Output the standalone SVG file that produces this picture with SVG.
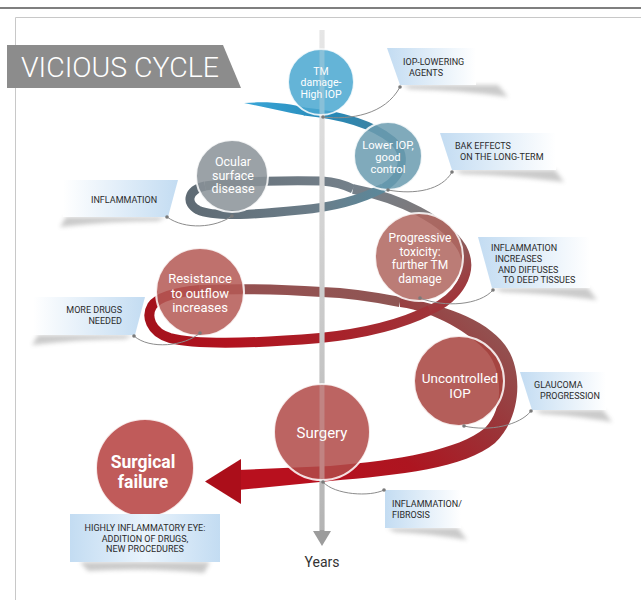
<svg xmlns="http://www.w3.org/2000/svg" width="641" height="600" viewBox="0 0 641 600">
<style>
.ct{font-family:Roboto,"Liberation Sans",sans-serif;fill:#fff;text-anchor:middle;}
.lb{font-family:Roboto,"Liberation Sans",sans-serif;font-size:9px;fill:#2b2b2b;}
.conn{fill:none;stroke:#8c8c8c;stroke-width:1;}
.dot{fill:#7a7a7a;}
.node circle{stroke:#fff;stroke-opacity:.85;stroke-width:2;fill-opacity:.86;}
.shd{fill:#8a8a8a;opacity:.45;filter:url(#blur);}
.rib{fill:none;stroke-linecap:butt;}
</style>
<defs>
<filter id="blur" x="-20%" y="-50%" width="140%" height="200%"><feGaussianBlur stdDeviation="2.2"/></filter>
<linearGradient id="gBlue" gradientUnits="userSpaceOnUse" x1="244" y1="0" x2="405" y2="0"><stop offset="0" stop-color="#3aa6d8"/><stop offset=".55" stop-color="#2688b6"/><stop offset="1" stop-color="#4c7f95"/></linearGradient>
<linearGradient id="gF1" gradientUnits="userSpaceOnUse" x1="385" y1="0" x2="188" y2="0"><stop offset="0" stop-color="#5a889b"/><stop offset=".35" stop-color="#6b7d89"/><stop offset="1" stop-color="#5f6b74"/></linearGradient>
<linearGradient id="gB1" gradientUnits="userSpaceOnUse" x1="205" y1="0" x2="353" y2="0"><stop offset="0" stop-color="#66717a"/><stop offset="1" stop-color="#74808a"/></linearGradient>
<linearGradient id="gRT" gradientUnits="userSpaceOnUse" x1="353" y1="189" x2="432" y2="312"><stop offset="0" stop-color="#74808a"/><stop offset=".45" stop-color="#7f7778"/><stop offset=".7" stop-color="#8d5c5b"/><stop offset="1" stop-color="#a0353a"/></linearGradient>
<linearGradient id="gF2" gradientUnits="userSpaceOnUse" x1="432" y1="0" x2="148" y2="0"><stop offset="0" stop-color="#a0353a"/><stop offset=".3" stop-color="#a7232b"/><stop offset=".7" stop-color="#b2131f"/><stop offset="1" stop-color="#a4121c"/></linearGradient>
<linearGradient id="gB2" gradientUnits="userSpaceOnUse" x1="150" y1="0" x2="400" y2="0"><stop offset="0" stop-color="#a1282c"/><stop offset=".35" stop-color="#955050"/><stop offset="1" stop-color="#8f5654"/></linearGradient>
<linearGradient id="gBig" gradientUnits="userSpaceOnUse" x1="470" y1="300" x2="300" y2="480"><stop offset="0" stop-color="#925452"/><stop offset=".35" stop-color="#9c3035"/><stop offset=".65" stop-color="#ad1520"/><stop offset="1" stop-color="#b8101e"/></linearGradient>
<linearGradient id="gAx" gradientUnits="userSpaceOnUse" x1="0" y1="30" x2="0" y2="545"><stop offset="0" stop-color="#e6e6e6"/><stop offset="1" stop-color="#9c9c9c"/></linearGradient>
<linearGradient id="gBoxR" x1="0" y1="0" x2="1" y2="0"><stop offset="0" stop-color="#c3dcf2"/><stop offset="1" stop-color="#ffffff"/></linearGradient>
<linearGradient id="gBoxL" x1="0" y1="0" x2="1" y2="0"><stop offset="0" stop-color="#ffffff"/><stop offset="1" stop-color="#c3dcf2"/></linearGradient>
<linearGradient id="gBoxC" x1="0" y1="0" x2="1" y2="0"><stop offset="0" stop-color="#c3dcf2"/><stop offset=".5" stop-color="#e9f3fc"/><stop offset="1" stop-color="#c3dcf2"/></linearGradient>
</defs>

<rect width="641" height="600" fill="#fff"/>
<line x1="0" y1="8" x2="641" y2="8" stroke="#555" stroke-width="1.3"/>
<path d="M15.5,600 V17.5 H641" fill="none" stroke="#c8c8c8" stroke-width="1"/>

<g id="title">
<polygon points="7,45 223,45 241,88 7,88" fill="#8c8c8c"/>
<text x="21" y="77" font-family="Roboto,'Liberation Sans',sans-serif" font-weight="300" font-size="28" fill="#fff" textLength="198" lengthAdjust="spacingAndGlyphs">VICIOUS CYCLE</text>
</g>

<g id="spiral">
<path class="rib" d="M200,290 C250,288 290,290 322,292 C350,293 375,297 400,302" stroke="url(#gB2)" stroke-width="10"/>
<path d="M400,297 C440,304 485,318 505,345 C525,372 520,420 495,443 C465,468 400,475 330,481 L238,490 L238,470 L330,466 C400,460 458,450 485,428 C505,408 502,370 487,352 C470,333 435,312 400,307 Z" fill="url(#gBig)"/>
<polygon points="241,459 205,481.5 241,504" fill="#ab0e1a"/>
<path class="rib" d="M205,186 C240,181 290,180 322,181 C335,182 345,185 353,189" stroke="url(#gB1)" stroke-width="9"/>
<path class="rib" d="M353,189 C400,198 445,220 462,248 C475,272 458,298 430,310" stroke="url(#gRT)" stroke-width="9.5"/>
<path class="rib" d="M430,310 C400,325 360,334 320,338 C260,343 200,346 170,338 C150,332 146,316 152,306 C158,297 175,292 200,290" stroke="url(#gF2)" stroke-width="10"/>
<path class="rib" d="M383,188 C360,200 335,207 300,210 C260,214 215,218 198,210 C185,203 188,190 205,186" stroke="url(#gF1)" stroke-width="9"/>
<path d="M244,103 C270,101 290,104 305,107.5 L305,115.5 C285,112 265,107 244,103 Z" fill="url(#gBlue)"/>
<path class="rib" d="M304,111.5 C340,115 372,124 392,140 C408,154 404,176 383,188" stroke="url(#gBlue)" stroke-width="8"/>
</g>

<g id="axis">
<line x1="322" y1="30" x2="322" y2="532" stroke="url(#gAx)" stroke-width="5"/>
<polygon points="313,531 331,531 322,546" fill="#9c9c9c"/>
<text x="322" y="567" font-family="Roboto,'Liberation Sans',sans-serif" font-size="14" fill="#333" text-anchor="middle">Years</text>
</g>

<g id="n-tm" class="node"><circle cx="321" cy="82" r="33" fill="#4ba8d0"/>
<text class="ct" font-size="10.5"><tspan x="321" y="74.5">TM</tspan><tspan x="321" y="86">damage-</tspan><tspan x="321" y="97.5">High IOP</tspan></text></g>
<g id="n-lower" class="node"><circle cx="388" cy="156" r="34" fill="#6b9cb0"/>
<text class="ct" font-size="11.2"><tspan x="388" y="149">Lower IOP,</tspan><tspan x="388" y="161">good</tspan><tspan x="388" y="173">control</tspan></text></g>
<g id="n-ocular" class="node"><circle cx="232" cy="176" r="36" fill="#8b9398"/>
<text class="ct" font-size="12.5"><tspan x="233" y="166">Ocular</tspan><tspan x="233" y="179.5">surface</tspan><tspan x="233" y="193">disease</tspan></text></g>
<g id="n-prog" class="node"><circle cx="419" cy="257" r="44" fill="#b06660"/>
<text class="ct" font-size="12"><tspan x="420" y="242">Progressive</tspan><tspan x="420" y="255.5">toxicity:</tspan><tspan x="420" y="269">further TM</tspan><tspan x="420" y="282.5">damage</tspan></text></g>
<g id="n-resist" class="node"><circle cx="200" cy="292" r="44" fill="#b55a55"/>
<text class="ct" font-size="13"><tspan x="200" y="283">Resistance</tspan><tspan x="200" y="297.5">to outflow</tspan><tspan x="200" y="312">increases</tspan></text></g>
<g id="n-uncontrolled" class="node"><circle cx="459" cy="381" r="45" fill="#a8443f"/>
<text class="ct" font-size="13.5"><tspan x="460" y="383">Uncontrolled</tspan><tspan x="460" y="398">IOP</tspan></text></g>
<g id="n-surgery" class="node"><circle cx="322" cy="432" r="48" fill="#b14a48"/>
<text class="ct" font-size="15" x="322" y="437.5">Surgery</text></g>
<g id="n-failure" class="node"><circle cx="145" cy="468" r="49" fill="#b6403f"/>
<text class="ct" font-size="17.5" font-weight="bold"><tspan x="143" y="467.5">Surgical</tspan><tspan x="143" y="487.5">failure</tspan></text></g>

<line x1="322" y1="30" x2="322" y2="530" stroke="#e8e8e8" stroke-width="5" opacity=".3"/>

<g id="c-ioplow">
<path class="shd" d="M402,85 L498,85 L508,97 Q460,90 410,89 Z"/>
<polygon points="387,48 476,48 476,85 400,85" fill="url(#gBoxR)"/>
<text class="lb"><tspan x="403" y="65">IOP-LOWERING</tspan><tspan x="409" y="76">AGENTS</tspan></text></g>
<g id="c-bak">
<path class="shd" d="M454,170 L555,170 L564,182 Q510,175 462,174 Z"/>
<polygon points="440,133 556,133 556,170 452,170" fill="url(#gBoxR)"/>
<text class="lb"><tspan x="455" y="149">BAK EFFECTS</tspan><tspan x="460" y="160">ON THE LONG-TERM</tspan></text></g>
<g id="c-infl">
<path class="shd" d="M166,217 L66,217 L60,227 Q110,221 158,221 Z"/>
<polygon points="63,180 178,180 168,217 63,217" fill="url(#gBoxL)"/>
<text class="lb" x="91" y="203">INFLAMMATION</text></g>
<g id="c-diffuse">
<path class="shd" d="M494,288 L588,288 L597,300 Q545,293 502,292 Z"/>
<polygon points="478,237 590,237 590,288 492,288" fill="url(#gBoxR)"/>
<text class="lb"><tspan x="491" y="251">INFLAMMATION</tspan><tspan x="495" y="261.5">INCREASES</tspan><tspan x="498" y="272.5">AND DIFFUSES</tspan><tspan x="503" y="283">TO DEEP TISSUES</tspan></text></g>
<g id="c-drugs">
<path class="shd" d="M133,335 L38,335 L32,345 Q80,339 125,339 Z"/>
<polygon points="33,297 145,297 135,335 33,335" fill="url(#gBoxL)"/>
<text class="lb" text-anchor="end"><tspan x="122" y="313">MORE DRUGS</tspan><tspan x="122" y="323.5">NEEDED</tspan></text></g>
<g id="c-glauc">
<path class="shd" d="M534,410 L603,410 L612,422 Q570,415 542,414 Z"/>
<polygon points="520,372 606,372 606,410 532,410" fill="url(#gBoxR)"/>
<text class="lb"><tspan x="534" y="388">GLAUCOMA</tspan><tspan x="540" y="399">PROGRESSION</tspan></text></g>
<g id="c-fibrosis">
<path class="shd" d="M387,528 L458,528 L467,540 Q425,533 395,532 Z"/>
<rect x="385" y="490" width="76" height="38" fill="url(#gBoxR)"/>
<text class="lb"><tspan x="392" y="507">INFLAMMATION/</tspan><tspan x="392" y="517.5">FIBROSIS</tspan></text></g>
<g id="c-highly">
<path class="shd" d="M80,562 L210,562 L204,573 Q145,567 88,571 Z"/>
<rect x="70" y="514" width="150" height="48" fill="url(#gBoxC)"/>
<text class="lb" text-anchor="middle"><tspan x="145" y="531">HIGHLY INFLAMMATORY EYE:</tspan><tspan x="145" y="541.5">ADDITION OF DRUGS,</tspan><tspan x="145" y="552">NEW PROCEDURES</tspan></text></g>

<g id="connectors">
<path class="conn" d="M323,117 C350,120 385,115 400,87"/>
<path class="conn" d="M388,190 C415,195 442,190 452,172"/>
<path class="conn" d="M167,217 C185,230 215,228 232,216"/>
<path class="conn" d="M420,298 C445,308 480,305 493,290"/>
<path class="conn" d="M134,336 C150,350 185,346 200,333"/>
<path class="conn" d="M464,426 C490,432 520,425 531,411"/>
<path class="conn" d="M323,482 C335,495 370,497 384,490"/>
<circle class="dot" cx="323" cy="117" r="1.8"/><circle class="dot" cx="400" cy="87" r="1.8"/>
<circle class="dot" cx="388" cy="190" r="1.8"/><circle class="dot" cx="452" cy="172" r="1.8"/>
<circle class="dot" cx="167" cy="217" r="1.8"/><circle class="dot" cx="232" cy="216" r="1.8"/>
<circle class="dot" cx="420" cy="298" r="1.8"/><circle class="dot" cx="493" cy="290" r="1.8"/>
<circle class="dot" cx="134" cy="336" r="1.8"/><circle class="dot" cx="200" cy="333" r="1.8"/>
<circle class="dot" cx="464" cy="426" r="1.8"/><circle class="dot" cx="531" cy="411" r="1.8"/>
<circle class="dot" cx="323" cy="482" r="1.8"/><circle class="dot" cx="384" cy="490" r="1.8"/>
</g>
</svg>
